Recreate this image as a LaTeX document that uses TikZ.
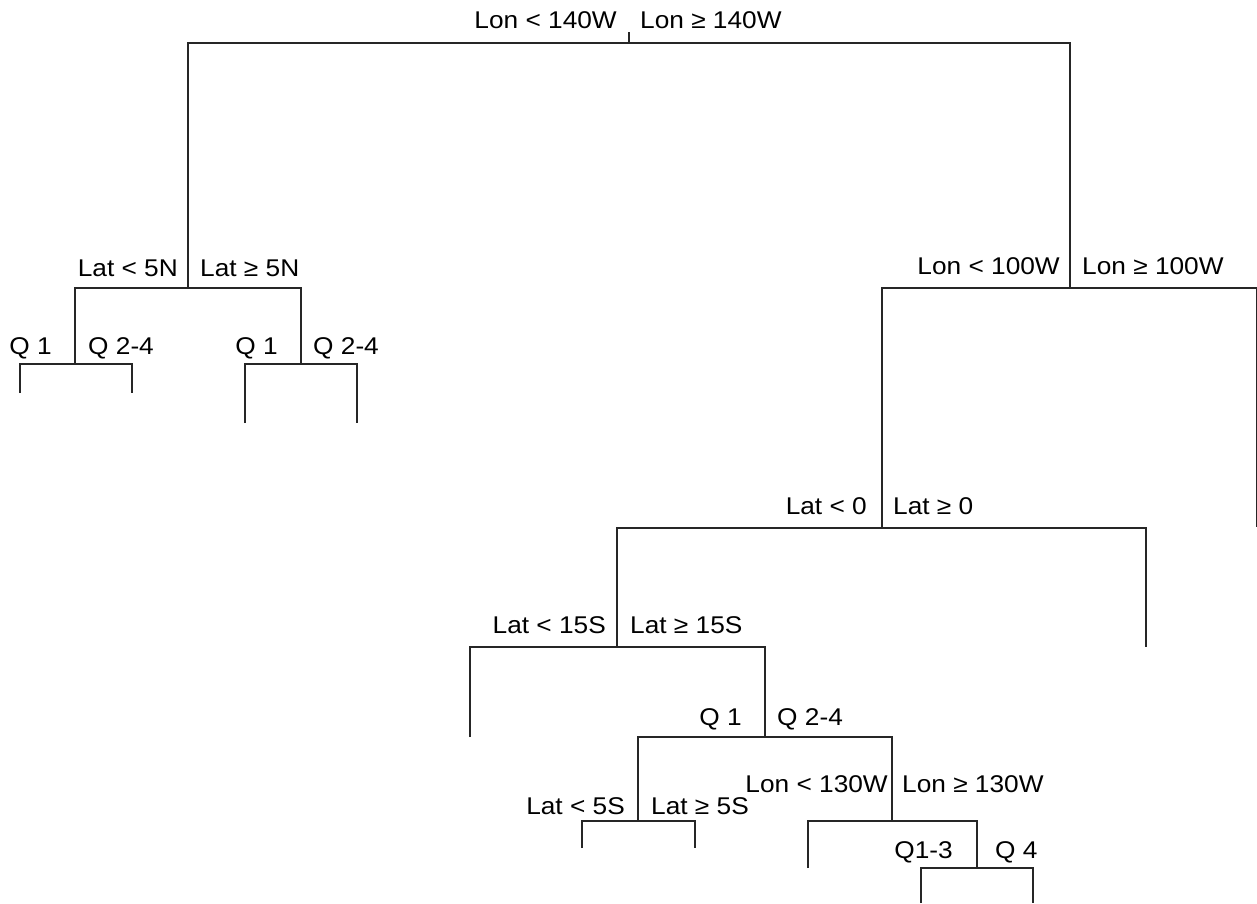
\documentclass[tikz,border=0pt]{standalone}
\usepackage{fontspec}
\setmainfont{Liberation Sans}[FakeStretch=1.085]
\begin{document}
\begin{tikzpicture}[x=1pt,y=-1pt,
  edge/.style={line width=1.6pt,draw=black!85},
  lbl/.style={inner sep=0pt,font=\fontsize{24.2}{29}\selectfont,text=black}]
\useasboundingbox (0,0) rectangle (1257,903);
% tree points
\coordinate (top) at (629,32);
\coordinate (root) at (629,43);
\coordinate (n1) at (188,288);
\coordinate (n11) at (75,364);
\coordinate (n11a) at (20,393);
\coordinate (n11b) at (132,393);
\coordinate (n12) at (301,364);
\coordinate (n12a) at (245,423);
\coordinate (n12b) at (357,423);
\coordinate (n2) at (1070,288);
\coordinate (n21) at (882,528);
\coordinate (n22) at (1256.5,527);
\coordinate (n211) at (617,647);
\coordinate (n212) at (1146,647);
\coordinate (n2111) at (470,737);
\coordinate (n2112) at (765,737);
\coordinate (n5) at (638,821);
\coordinate (n5a) at (582,848);
\coordinate (n5b) at (695,848);
\coordinate (n6) at (892,821);
\coordinate (n6a) at (808,868);
\coordinate (n7) at (977,868);
\coordinate (n7a) at (921,903);
\coordinate (n7b) at (1033,903);
% connectors
\draw[edge] (top) -- (root);
\draw[edge] (n1) |- (root) -| (n2);
\draw[edge] (n11) |- (n1) -| (n12);
\draw[edge] (n11a) |- (n11) -| (n11b);
\draw[edge] (n12a) |- (n12) -| (n12b);
\draw[edge] (n21) |- (n2) -| (n22);
\draw[edge] (n211) |- (n21) -| (n212);
\draw[edge] (n2111) |- (n211) -| (n2112);
\draw[edge] (n5) |- (n2112) -| (n6);
\draw[edge] (n5a) |- (n5) -| (n5b);
\draw[edge] (n6a) |- (n6) -| (n7);
\draw[edge] (n7a) |- (n7) -| (n7b);
% labels
\node[lbl,anchor=base east] (L1) at (617,28) {Lon < 140W};
\node[lbl,anchor=base west] (R1) at (640,28) {Lon ≥ 140W};
\node[lbl,anchor=base east] (L2) at (178,276) {Lat < 5N};
\node[lbl,anchor=base west] (R2) at (200,276) {Lat ≥ 5N};
\node[lbl,anchor=base east] (L3) at (52,354) {Q 1};
\node[lbl,anchor=base west] (R3) at (88,354) {Q 2-4};
\node[lbl,anchor=base east] (L4) at (278,354) {Q 1};
\node[lbl,anchor=base west] (R4) at (313,354) {Q 2-4};
\node[lbl,anchor=base east] (L5) at (1060,274) {Lon < 100W};
\node[lbl,anchor=base west] (R5) at (1082,274) {Lon ≥ 100W};
\node[lbl,anchor=base east] (L6) at (867,514) {Lat < 0};
\node[lbl,anchor=base west] (R6) at (893,514) {Lat ≥ 0};
\node[lbl,anchor=base east] (L7) at (606,633) {Lat < 15S};
\node[lbl,anchor=base west] (R7) at (630,633) {Lat ≥ 15S};
\node[lbl,anchor=base east] (L8) at (742,725) {Q 1};
\node[lbl,anchor=base west] (R8) at (777,725) {Q 2-4};
\node[lbl,anchor=base east] (L9) at (625,814) {Lat < 5S};
\node[lbl,anchor=base west] (R9) at (651,814) {Lat ≥ 5S};
\node[lbl,anchor=base east] (L10) at (888,792) {Lon < 130W};
\node[lbl,anchor=base west] (R10) at (902,792) {Lon ≥ 130W};
\node[lbl,anchor=base east] (L11) at (953,858) {Q1-3};
\node[lbl,anchor=base west] (R11) at (995,858) {Q 4};
\end{tikzpicture}
\end{document}
